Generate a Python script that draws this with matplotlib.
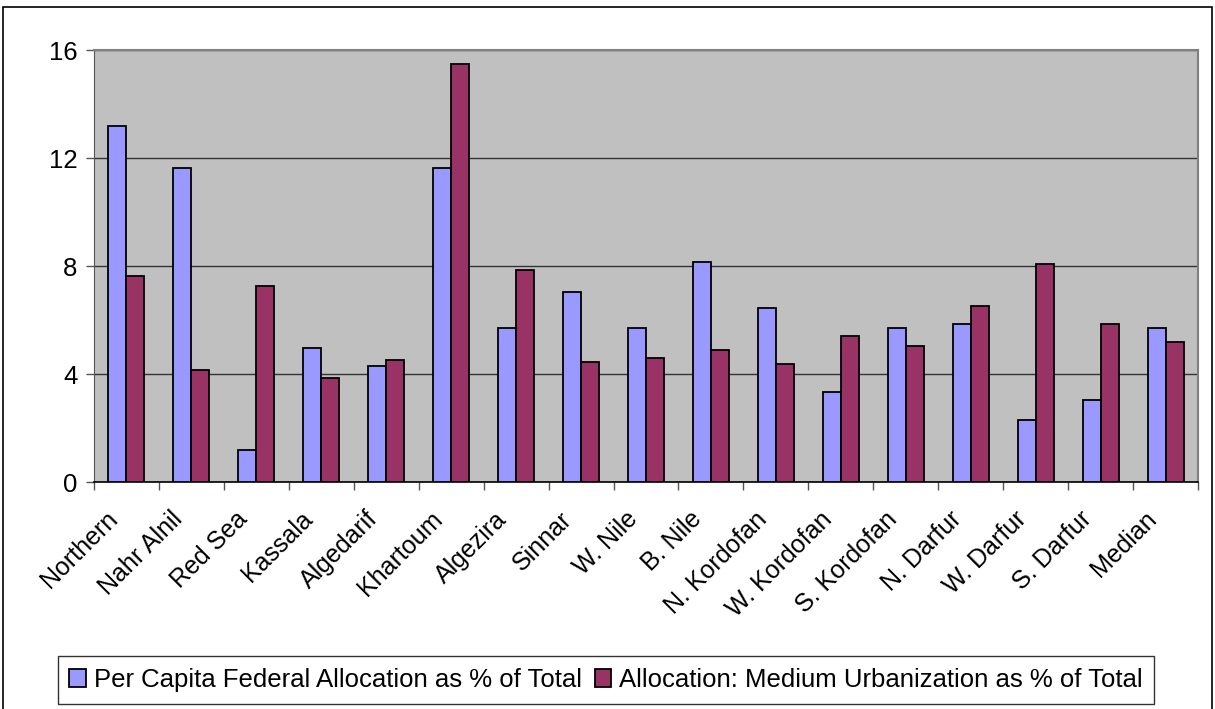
"""Grouped bar chart: per capita federal allocation vs. medium-urbanization
allocation by Sudanese state, styled like an old Excel chart."""

import matplotlib

matplotlib.use("Agg")
import matplotlib.pyplot as plt
import numpy as np
from matplotlib.patches import Rectangle
from matplotlib.ticker import FixedLocator
from matplotlib.transforms import ScaledTranslation

STATES = [
    "Northern", "Nahr Alnil", "Red Sea", "Kassala", "Algedarif", "Khartoum",
    "Algezira", "Sinnar", "W. Nile", "B. Nile", "N. Kordofan", "W. Kordofan",
    "S. Kordofan", "N. Darfur", "W. Darfur", "S. Darfur", "Median",
]
PER_CAPITA = [13.19, 11.63, 1.19, 4.96, 4.30, 11.63, 5.70, 7.04, 5.70,
              8.15, 6.44, 3.33, 5.70, 5.85, 2.30, 3.04, 5.70]
MEDIUM_URBAN = [7.63, 4.15, 7.26, 3.85, 4.52, 15.48, 7.85, 4.44, 4.59,
                4.89, 4.37, 5.41, 5.04, 6.52, 8.07, 5.85, 5.19]
SERIES_NAMES = [
    "Per Capita Federal Allocation as % of Total",
    "Allocation: Medium Urbanization as % of Total",
]
Y_TICKS = [0, 4, 8, 12, 16]

BLUE = "#9999FF"
PLUM = "#993366"
FONT = "Liberation Sans"
FS = 18.5

plt.rcParams["font.family"] = [FONT, "DejaVu Sans"]

fig = plt.figure(figsize=(12.15, 7.09), dpi=100)
W, H = 1215, 709
# plot area in pixels: x 94..1198, y 50..482
ax = fig.add_axes([94 / W, 1 - 482 / H, (1198 - 94) / W, (482 - 50) / H])
ax.set_facecolor("#C0C0C0")

x = np.arange(len(STATES))
bw = 0.277
ax.bar(x - bw / 2, PER_CAPITA, bw, color=BLUE, edgecolor="black", linewidth=1.3,
       label=SERIES_NAMES[0], zorder=3)
ax.bar(x + bw / 2, MEDIUM_URBAN, bw, color=PLUM, edgecolor="black", linewidth=1.3,
       label=SERIES_NAMES[1], zorder=3)

ax.set_xlim(-0.5, len(STATES) - 0.5)
ax.set_ylim(0, 16)
ax.set_yticks(Y_TICKS)
ax.set_yticklabels([str(v) for v in Y_TICKS], fontsize=FS)
ax.yaxis.grid(True, color="#333333", linewidth=1.0, zorder=1)
ax.set_axisbelow(True)

ax.set_xticks(x)
ax.set_xticklabels(STATES, rotation=45, ha="right", rotation_mode="anchor",
                   fontsize=18)
ax.tick_params(axis="x", which="major", length=0, pad=18)
shift = ScaledTranslation(-21 / 100, 0, fig.dpi_scale_trans)
for lbl in ax.get_xticklabels():
    lbl.set_transform(lbl.get_transform() + shift)
ax.xaxis.set_minor_locator(FixedLocator(np.arange(-0.5, len(STATES), 1.0)))
ax.tick_params(axis="x", which="minor", length=6, direction="out", width=1,
               color="#555555")
ax.tick_params(axis="y", length=6, direction="out", width=1, color="#555555",
               pad=6)

for side in ("top", "right"):
    ax.spines[side].set_color("#808080")
    ax.spines[side].set_linewidth(1.5)
ax.spines["left"].set_color("#555555")
ax.spines["bottom"].set_color("black")
ax.spines["bottom"].set_linewidth(1.2)

leg = fig.legend(
    loc="center", bbox_to_anchor=((52 + 1160) / 2 / W, 1 - 680 / H),
    ncol=2, fontsize=FS, frameon=True, fancybox=False, edgecolor="black",
    handlelength=0.65, handleheight=0.65, handletextpad=0.3, columnspacing=0.5,
    borderpad=0.45,
)
leg.get_frame().set_linewidth(1.0)

# outer chart border
fig.patches.append(Rectangle((3 / W, -0.01), (1212 - 3) / W, 1 - 7 / H + 0.01,
                             transform=fig.transFigure, fill=False,
                             edgecolor="black", linewidth=1.2))

fig.savefig("out.png", dpi=100)
